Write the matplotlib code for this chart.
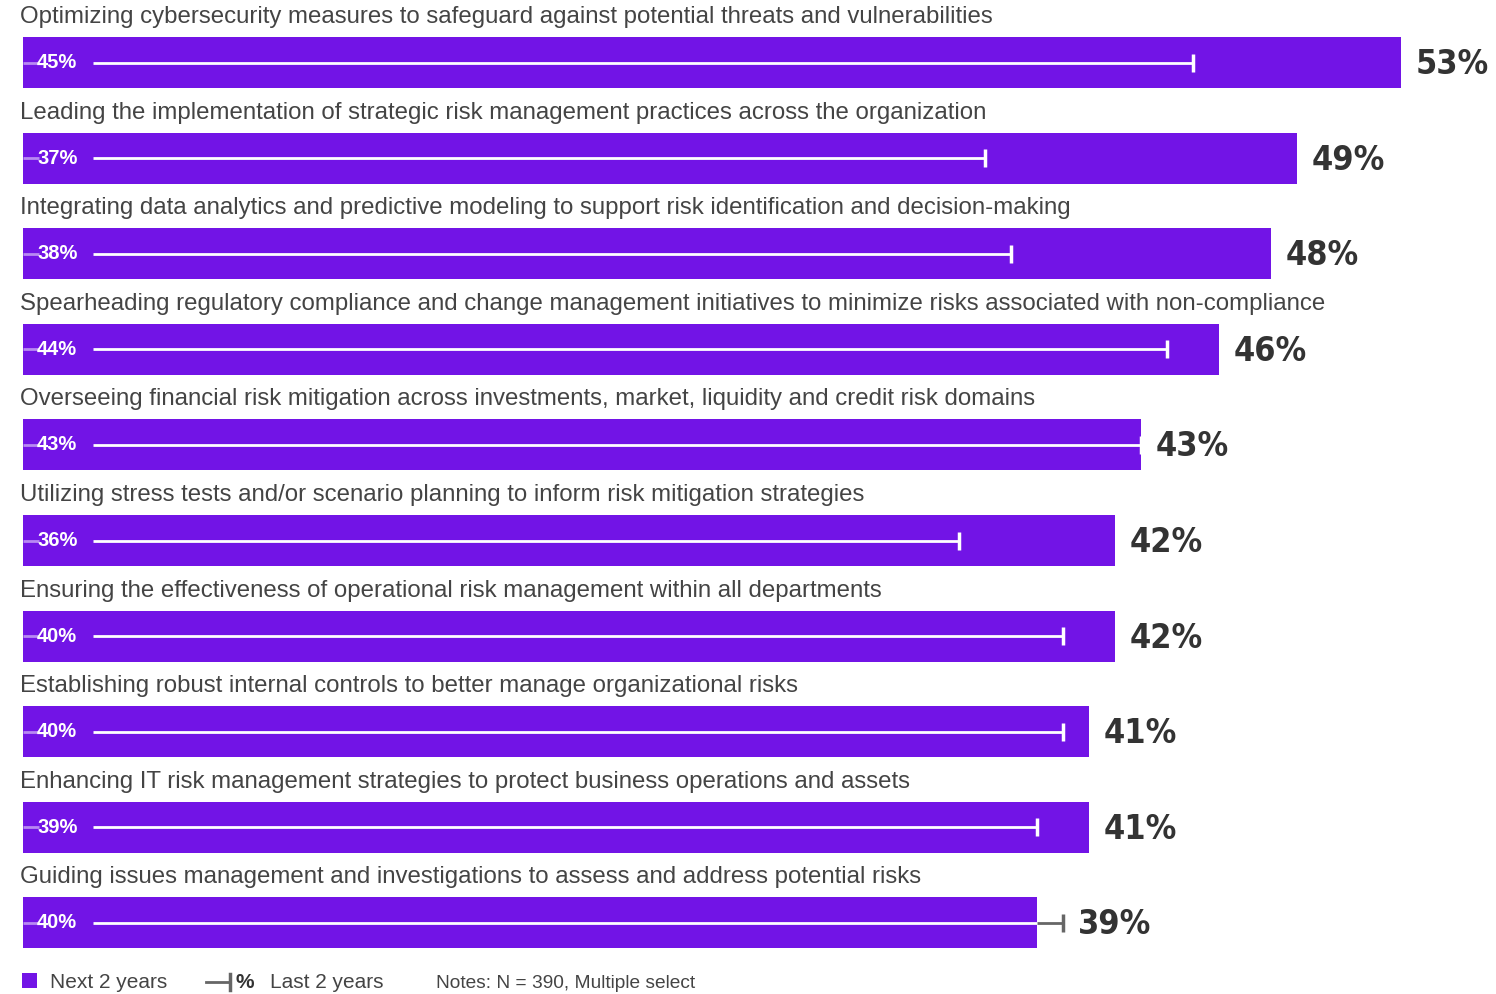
import matplotlib
matplotlib.use('Agg')
import matplotlib.pyplot as plt
from matplotlib.patches import Rectangle
from matplotlib.lines import Line2D

categories = [
    'Optimizing cybersecurity measures to safeguard against potential threats and vulnerabilities',
    'Leading the implementation of strategic risk management practices across the organization',
    'Integrating data analytics and predictive modeling to support risk identification and decision-making',
    'Spearheading regulatory compliance and change management initiatives to minimize risks associated with non-compliance',
    'Overseeing financial risk mitigation across investments, market, liquidity and credit risk domains',
    'Utilizing stress tests and/or scenario planning to inform risk mitigation strategies',
    'Ensuring the effectiveness of operational risk management within all departments',
    'Establishing robust internal controls to better manage organizational risks',
    'Enhancing IT risk management strategies to protect business operations and assets',
    'Guiding issues management and investigations to assess and address potential risks',
]
next_2y = [53, 49, 48, 46, 43, 42, 42, 41, 41, 39]
last_2y = [45, 37, 38, 44, 43, 36, 40, 40, 39, 40]

purple = '#7214E6'
dark = '#333333'
grey = '#666666'

W, H = 1496, 994
fig = plt.figure(figsize=(W / 100, H / 100), dpi=100)
ax = fig.add_axes([0, 0, 1, 1])
ax.axis('off')

px = 26.0          # pixels per percent
x0 = 23            # bar start in pixels
y0, dy = 62.5, 95.6
ax.set_xlim(-x0 / px, (W - x0) / px)
ax.set_ylim((H - y0) / dy, -y0 / dy)

bh = 51 / dy
for i, (cat, nv, lv) in enumerate(zip(categories, next_2y, last_2y)):
    y = i
    ax.text(-3 / px, y - 0.475, cat, ha='left', va='center', fontsize=17.3,
            color='#444444', family='Liberation Sans')
    ax.add_patch(Rectangle((0, y - bh / 2), nv, bh, color=purple, lw=0))
    # last 2 years marker
    ax.plot([0, 0.6], [y, y], color='white', lw=2, alpha=0.5, solid_capstyle='butt')
    inside = min(lv, nv)
    ax.plot([2.7, inside], [y, y], color='white', lw=2, solid_capstyle='butt')
    tick_col = 'white'
    if lv > nv:
        ax.plot([nv, lv], [y, y], color=grey, lw=2, solid_capstyle='butt')
        tick_col = grey
    ax.plot([lv, lv], [y - 9 / dy, y + 9 / dy], color=tick_col, lw=2.5, solid_capstyle='butt')
    ax.text(14 / px, y, f'{lv}%', ha='left', va='center', fontsize=14.5,
            fontweight='bold', color='white', family='Liberation Sans')
    end = max(nv, lv)
    ax.text(end + 15 / px, y + 0.02, f'{nv}%', ha='left', va='center', fontsize=24.5,
            fontweight='bold', fontstretch='condensed', color=dark,
            family='DejaVu Sans')

# legend
fig.patches.append(Rectangle((22 / W, 1 - 988 / H), 15 / W, 15 / H,
                             transform=fig.transFigure, color=purple, lw=0))
fig.text(50 / W, 1 - 982 / H, 'Next 2 years', ha='left', va='center', fontsize=15,
         color='#444444', family='Liberation Sans')
fig.lines.append(Line2D([206 / W, 230 / W], [1 - 982 / H, 1 - 982 / H],
                        transform=fig.transFigure, color=grey, lw=2))
fig.lines.append(Line2D([230 / W, 230 / W], [1 - 974 / H, 1 - 990 / H],
                        transform=fig.transFigure, color=grey, lw=2.5))
fig.text(236 / W, 1 - 982 / H, '%', ha='left', va='center', fontsize=15,
         fontweight='bold', color=dark, family='Liberation Sans')
fig.text(270 / W, 1 - 982 / H, 'Last 2 years', ha='left', va='center', fontsize=15,
         color='#444444', family='Liberation Sans')
fig.text(436 / W, 1 - 984 / H, 'Notes: N = 390, Multiple select', ha='left', va='center',
         fontsize=13.8, color='#444444', family='Liberation Sans')

fig.savefig('out.png', dpi=100)
